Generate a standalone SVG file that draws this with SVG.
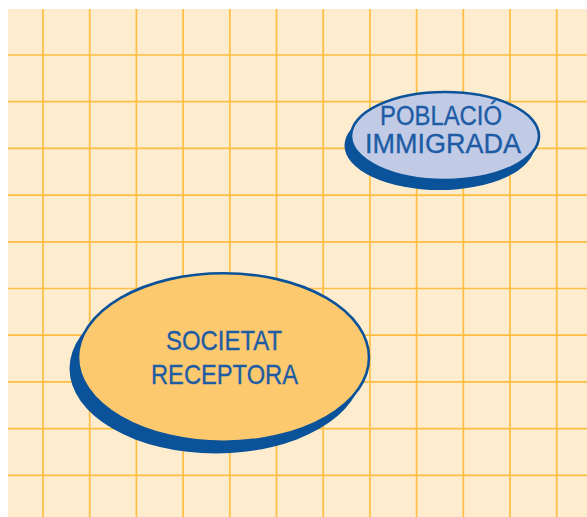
<svg xmlns="http://www.w3.org/2000/svg" width="587" height="517" viewBox="0 0 587 517">
  <style>
    .grid line { stroke: #FDBE42; stroke-width: 1.7; }
    .shadow { fill: #0A5299; }
    .outline { stroke: #0A5299; stroke-width: 2.6; }
    .label { font-family: "Liberation Sans", Arial, sans-serif; fill: #1D5CA5; stroke: #1D5CA5; stroke-width: 0.35; text-anchor: middle; }
  </style>
  <rect x="0" y="0" width="587" height="517" fill="#FFFFFF"/>
  <rect x="8" y="9" width="579" height="508" fill="#FEECCF"/>
  <g class="grid">
    <line x1="43" y1="9" x2="43" y2="517"/>
    <line x1="89.7" y1="9" x2="89.7" y2="517"/>
    <line x1="136.4" y1="9" x2="136.4" y2="517"/>
    <line x1="183.1" y1="9" x2="183.1" y2="517"/>
    <line x1="229.8" y1="9" x2="229.8" y2="517"/>
    <line x1="276.5" y1="9" x2="276.5" y2="517"/>
    <line x1="323.2" y1="9" x2="323.2" y2="517"/>
    <line x1="369.9" y1="9" x2="369.9" y2="517"/>
    <line x1="416.6" y1="9" x2="416.6" y2="517"/>
    <line x1="463.3" y1="9" x2="463.3" y2="517"/>
    <line x1="510" y1="9" x2="510" y2="517"/>
    <line x1="556.7" y1="9" x2="556.7" y2="517"/>
    <line x1="8" y1="55" x2="587" y2="55"/>
    <line x1="8" y1="101.7" x2="587" y2="101.7"/>
    <line x1="8" y1="148.4" x2="587" y2="148.4"/>
    <line x1="8" y1="195.1" x2="587" y2="195.1"/>
    <line x1="8" y1="241.8" x2="587" y2="241.8"/>
    <line x1="8" y1="288.5" x2="587" y2="288.5"/>
    <line x1="8" y1="335.2" x2="587" y2="335.2"/>
    <line x1="8" y1="381.9" x2="587" y2="381.9"/>
    <line x1="8" y1="428.6" x2="587" y2="428.6"/>
    <line x1="8" y1="475.3" x2="587" y2="475.3"/>
  </g>
  <g id="connectors"></g>
  <g id="node-poblacio">
    <ellipse class="shadow" cx="439.5" cy="145.5" rx="95" ry="44.5"/>
    <ellipse class="outline" cx="445" cy="136" rx="94" ry="44" fill="#C2CBE6"/>
    <text class="label" x="441" y="124.5" font-size="27" textLength="122" lengthAdjust="spacingAndGlyphs">POBLACIÓ</text>
    <text class="label" x="443" y="153" font-size="27" textLength="156" lengthAdjust="spacingAndGlyphs">IMMIGRADA</text>
  </g>
  <g id="node-societat">
    <ellipse class="shadow" cx="216" cy="368.5" rx="146.5" ry="85"/>
    <ellipse class="outline" cx="223.5" cy="357.5" rx="145.5" ry="84.3" fill="#FDC96E"/>
    <text class="label" x="224" y="349.5" font-size="27.5" textLength="116" lengthAdjust="spacingAndGlyphs">SOCIETAT</text>
    <text class="label" x="224.5" y="383.5" font-size="27.5" textLength="147" lengthAdjust="spacingAndGlyphs">RECEPTORA</text>
  </g>
</svg>
